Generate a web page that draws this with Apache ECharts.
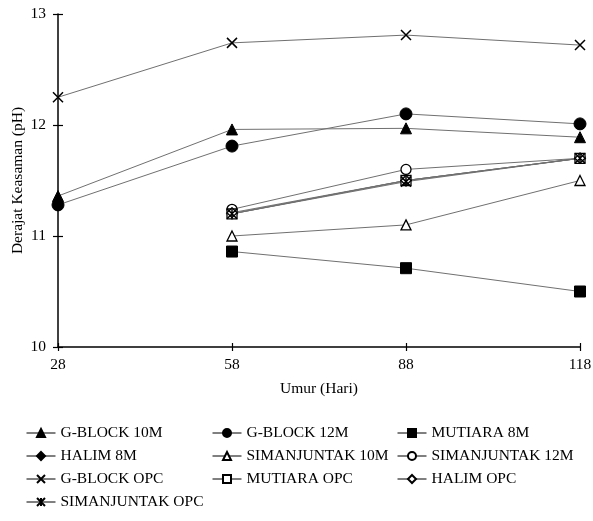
<!DOCTYPE html>
<html>
<head>
<meta charset="utf-8">
<script src="https://cdn.jsdelivr.net/npm/echarts@6/dist/echarts.min.js"></script>
<style>
  html, body { margin: 0; padding: 0; background: #fff; }
  #chart { width: 593px; height: 521px; }
</style>
</head>
<body>
<div id="chart"></div>
<script>
// Curing age (days)
const days = [28, 58, 88, 118];
const seriesNames = [
  'G-BLOCK 10M', 'G-BLOCK 12M', 'MUTIARA 8M',
  'HALIM 8M', 'SIMANJUNTAK 10M', 'SIMANJUNTAK 12M',
  'G-BLOCK OPC', 'MUTIARA OPC', 'HALIM OPC',
  'SIMANJUNTAK OPC'
];
// pH values per mix (null = not measured)
const gblock10M = [11.36, 11.96, 11.97, 11.89];
const gblock12M = [11.28, 11.81, 12.10, 12.01];
const mutiara8M = [null, 10.86, 10.71, 10.50];
const halim8M = [null, 11.20, 11.50, 11.70];
const simanjuntak10M = [null, 11.00, 11.10, 11.50];
const simanjuntak12M = [null, 11.24, 11.60, 11.70];
const gblockOPC = [12.25, 12.74, 12.81, 12.72];
const mutiaraOPC = [null, 11.20, 11.50, 11.70];
const halimOPC = [null, 11.21, 11.50, 11.70];
const simanjuntakOPC = [null, 11.20, 11.49, 11.70];
const yTicks = [10, 11, 12, 13];

const valuesList = [gblock10M, gblock12M, mutiara8M, halim8M, simanjuntak10M,
  simanjuntak12M, gblockOPC, mutiaraOPC, halimOPC, simanjuntakOPC];

const FONT = '"Liberation Serif", "DejaVu Serif", serif';
const FILLED = { color: '#000', borderColor: '#000', borderWidth: 1 };
const HOLLOW = { color: '#fff', borderColor: '#000', borderWidth: 1.3 };
const STROKE = { color: 'rgba(0,0,0,0)', borderColor: '#000', borderWidth: 1.5 };

const markers = [
  { symbol: 'triangle', size: 11, style: FILLED },
  { symbol: 'circle', size: 12, style: FILLED },
  { symbol: 'rect', size: 11, style: FILLED },
  { symbol: 'diamond', size: 11, style: FILLED },
  { symbol: 'triangle', size: 10, style: HOLLOW },
  { symbol: 'circle', size: 10, style: HOLLOW },
  { symbol: 'path://M0,0L10,10M10,0L0,10', size: 10, style: STROKE },
  { symbol: 'rect', size: 10, style: HOLLOW },
  { symbol: 'diamond', size: 10, style: HOLLOW },
  { symbol: 'path://M0,0L10,10M10,0L0,10M5,0L5,10', size: 10, style: STROKE }
];

const series = seriesNames.map((name, i) => ({
  name: name,
  type: 'line',
  data: days.map((d, k) => valuesList[i][k] == null ? null : [d, valuesList[i][k]])
            .filter(p => p !== null),
  symbol: markers[i].symbol,
  symbolSize: markers[i].size,
  showAllSymbol: true,
  itemStyle: markers[i].style,
  lineStyle: { color: '#707070', width: 1 },
  emphasis: { disabled: true },
  animation: false
}));

// One legend block per entry, laid out in three columns
const colLeft = [26, 212, 397];
const rowTop = [425, 448, 471, 494];
const legends = seriesNames.map((name, i) => ({
  data: [name],
  left: colLeft[i % 3],
  top: rowTop[Math.floor(i / 3)],
  padding: 0,
  itemWidth: 29,
  itemHeight: 10,
  itemGap: 0,
  selectedMode: false,
  textStyle: { fontFamily: FONT, fontSize: 15.5, color: '#000' },
  lineStyle: { color: '#000', width: 1 }
}));

const axisText = { fontFamily: FONT, fontSize: 15.5, color: '#000' };

const option = {
  backgroundColor: '#fff',
  animation: false,
  grid: { left: 58, right: 13, top: 14, bottom: 174, containLabel: false, outerBoundsMode: 'none' },
  legend: legends,
  xAxis: [{
    type: 'value',
    min: 28, max: 118, interval: 30,
    name: 'Umur (Hari)',
    nameLocation: 'middle',
    nameGap: 34,
    nameMoveOverlap: false,
    nameTextStyle: axisText,
    axisLine: { show: true, lineStyle: { color: '#000', width: 1.5 } },
    axisTick: { show: true, length: 4, lineStyle: { color: '#000', width: 1.2 } },
    axisLabel: Object.assign({ margin: 10 }, axisText),
    splitLine: { show: false }
  }, {
    type: 'value',
    min: 28, max: 118, interval: 30,
    position: 'bottom',
    axisLine: { show: false },
    axisTick: { show: true, inside: true, length: 4, lineStyle: { color: '#000', width: 1.2 } },
    axisLabel: { show: false },
    splitLine: { show: false }
  }],
  yAxis: [{
    type: 'value',
    min: yTicks[0], max: yTicks[yTicks.length - 1], interval: 1,
    name: 'Derajat Keasaman (pH)',
    nameLocation: 'middle',
    nameGap: 32,
    nameMoveOverlap: false,
    nameTextStyle: axisText,
    axisLine: { show: true, lineStyle: { color: '#000', width: 1.5 } },
    axisTick: { show: true, length: 5, lineStyle: { color: '#000', width: 1.2 } },
    axisLabel: Object.assign({ margin: 12 }, axisText),
    splitLine: { show: false }
  }, {
    type: 'value',
    min: yTicks[0], max: yTicks[yTicks.length - 1], interval: 1,
    position: 'left',
    axisLine: { show: false },
    axisTick: { show: true, inside: true, length: 5, lineStyle: { color: '#000', width: 1.2 } },
    axisLabel: { show: false },
    splitLine: { show: false }
  }],
  series: series
};

const chart = echarts.init(document.getElementById('chart'), null, { renderer: 'canvas' });
chart.setOption(option);
</script>
</body>
</html>
